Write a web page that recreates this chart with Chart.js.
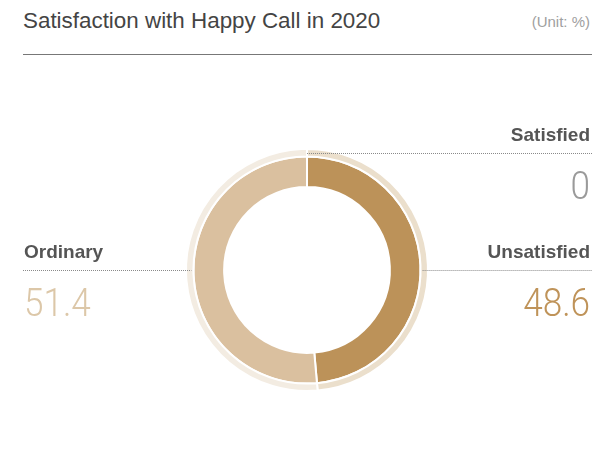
<!DOCTYPE html>
<html>
<head>
<meta charset="utf-8">
<title>Satisfaction with Happy Call in 2020</title>
<script src="https://cdn.jsdelivr.net/npm/chart.js@4.4.1/dist/chart.umd.min.js"></script>
<style>
  html, body { margin: 0; padding: 0; background: #fff; }
  #wrap { position: relative; width: 597px; height: 453px; overflow: hidden; }
  #chart { position: absolute; left: 0; top: 0; }
  .title {
    position: absolute; left: 23px; top: 8px;
    font: 22.4px "Liberation Sans", Arial, sans-serif; color: #444;
  }
  .unit {
    position: absolute; right: 7px; top: 13px;
    font: 15px "Liberation Sans", Arial, sans-serif; color: #a0a0a0;
  }
  .rule { position: absolute; left: 23px; right: 5px; top: 54px; border-top: 1px solid #777; }
</style>
</head>
<body>
<div id="wrap">
  <div class="title">Satisfaction with Happy Call in 2020</div>
  <div class="unit">(Unit: %)</div>
  <div class="rule"></div>
  <canvas id="chart" width="597" height="453"></canvas>
</div>
<script>
// Shares of respondents, clockwise from 12 o'clock
const labels = ['Satisfied', 'Unsatisfied', 'Ordinary'];
const values = [0, 48.6, 51.4];

const ringColors = ['#c9c9c9', '#bc9259', '#dac09f'];
const haloColors = ['#eeeeee', '#ebdfcc', '#f3ece2'];
const valueColors = ['#9a9a9a', '#bf9359', '#dcc7a8'];

// where each label sits relative to the ring: top, right or left
const calloutSides = ['top', 'right', 'left'];

// Draws the dotted leader line, the name and the big number for each slice
const calloutPlugin = {
  id: 'callouts',
  afterDatasetsDraw(chart, args, opts) {
    const ctx = chart.ctx;
    const halo = chart.getDatasetMeta(0).data[0];
    const ring = chart.getDatasetMeta(1).data[0];
    const cx = ring.x, cy = ring.y;
    const haloMid = (halo.outerRadius + halo.innerRadius) / 2;

    labels.forEach((name, i) => {
      const side = calloutSides[i];
      let lineY, x0, x1, align, textX;
      if (side === 'top') {
        lineY = cy - haloMid;
        x0 = cx; x1 = opts.right;
        align = 'right'; textX = opts.right - 2;
      } else if (side === 'right') {
        lineY = cy;
        x0 = cx + ring.outerRadius + 2; x1 = opts.right;
        align = 'right'; textX = opts.right - 2;
      } else {
        lineY = cy;
        x0 = opts.left; x1 = cx - ring.outerRadius - 2;
        align = 'left'; textX = opts.left + 1;
      }

      ctx.save();
      ctx.strokeStyle = '#8a8a8a';
      ctx.lineWidth = 1;
      ctx.setLineDash([1, 1]);
      ctx.beginPath();
      ctx.moveTo(x0, Math.round(lineY) + 0.5);
      ctx.lineTo(x1, Math.round(lineY) + 0.5);
      ctx.stroke();
      ctx.restore();

      ctx.save();
      ctx.fillStyle = '#555';
      ctx.font = 'bold 19px "Liberation Sans", Arial, sans-serif';
      ctx.textAlign = align;
      ctx.textBaseline = 'alphabetic';
      ctx.fillText(name, textX, lineY - 12);
      ctx.restore();

      // numbers are set in a light, slightly narrowed face
      ctx.save();
      ctx.translate(textX, lineY + 46);
      ctx.scale(0.9, 1);
      ctx.fillStyle = valueColors[i];
      ctx.font = '300 39px Roboto, "DejaVu Sans", sans-serif';
      ctx.textAlign = align;
      ctx.textBaseline = 'alphabetic';
      ctx.fillText(String(values[i]), 0, 0);
      ctx.restore();
    });
  }
};

new Chart(document.getElementById('chart'), {
  type: 'doughnut',
  data: {
    labels: labels,
    datasets: [
      {
        data: values,
        backgroundColor: haloColors,
        borderColor: '#ffffff',
        borderWidth: 2,
        weight: 7
      },
      {
        data: values,
        backgroundColor: ringColors,
        borderColor: '#ffffff',
        borderWidth: 2,
        weight: 29
      }
    ]
  },
  options: {
    responsive: false,
    animation: false,
    cutout: '68.5%',
    layout: { padding: { left: 185, right: 168, top: 148, bottom: 61 } },
    plugins: {
      legend: { display: false },
      tooltip: { enabled: false },
      callouts: { left: 23, right: 592 }
    }
  },
  plugins: [calloutPlugin]
});
</script>
</body>
</html>
